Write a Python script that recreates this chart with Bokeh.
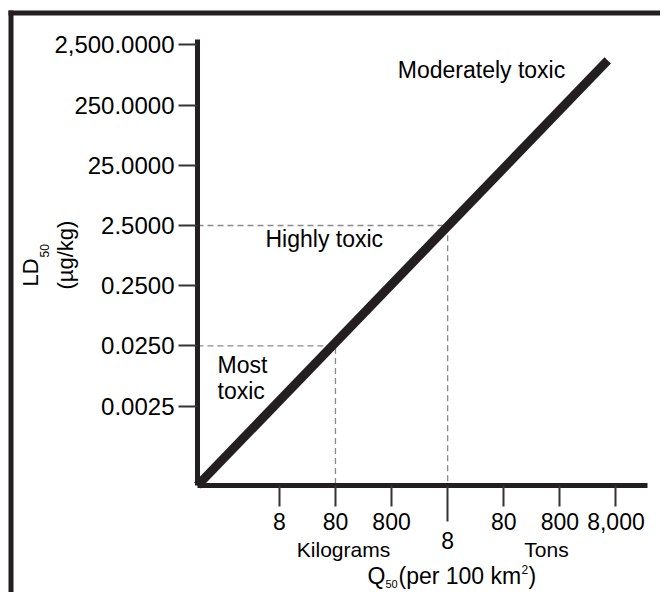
import math
from bokeh.plotting import figure
from bokeh.models import FixedTicker, Label, PolyAnnotation
from bokeh.embed import file_html
from bokeh.resources import INLINE

# ---------------- data ----------------
x_ticks_kg = [8, 80, 800, 8000, 80000, 800000, 8000000]
x_tick_labels = ["8", "80", "800", "8", "80", "800", "8,000"]
y_ticks = [0.0025, 0.025, 0.25, 2.5, 25, 250, 2500]
y_tick_labels = ["0.0025", "0.0250", "0.2500", "2.5000", "25.0000", "250.0000", "2,500.0000"]
q50_kg = [0.278, 5.7e6]          # Q50 (kg per 100 km2)
ld50 = [1.2e-4, 1380]            # LD50 (ug/kg)
thresh_q_kg = [80, 8000]
thresh_ld = [0.025, 2.5]
unit_names = ["Kilograms", "Tons"]
zone_names = ["Most", "toxic", "Highly toxic", "Moderately toxic"]

# axis extents (data)
X_AX, X_END = 0.278, 2.92e7      # x axis from origin to its right end
Y_AX, Y_END = 1.2e-4, 3070       # y axis from origin to its top end

# ---------------- layout ----------------
W, H = 660, 592
AX_L, AX_R, AX_T, AX_B = 197, 647, 39, 485
FONT = "Liberation Sans"
INK = "#231f20"
BASE_SHIFT = 0.3465   # em offset between label anchor and glyph baseline

lx_per_px = (math.log10(X_END) - math.log10(X_AX)) / (AX_R - AX_L)
ly_per_px = (math.log10(Y_END) - math.log10(Y_AX)) / (AX_B - AX_T)
X0 = 10 ** (math.log10(X_AX) - AX_L * lx_per_px)
X1 = 10 ** (math.log10(X_AX) + (W - AX_L) * lx_per_px)
Y0 = 10 ** (math.log10(Y_AX) - (H - AX_B) * ly_per_px)
Y1 = 10 ** (math.log10(Y_AX) + AX_B * ly_per_px)

p = figure(width=W, height=H, x_axis_type="log", y_axis_type="log",
           x_range=(X0, X1), y_range=(Y0, Y1),
           output_backend="svg", toolbar_location=None,
           min_border=0, min_border_left=0, min_border_right=0,
           min_border_top=0, min_border_bottom=0)
p.outline_line_color = None
p.grid.visible = False
p.background_fill_color = "white"
p.border_fill_color = "white"


def at(px, py):
    """canvas pixel (top-left origin) -> data coordinates"""
    return (10 ** (math.log10(X0) + px * lx_per_px),
            10 ** (math.log10(Y0) + (H - py) * ly_per_px))


# image frame (left and top bars)
def bar(x0, y0, x1, y1):
    a = at(x0, y0)
    b = at(x1, y1)
    p.add_layout(PolyAnnotation(xs=[a[0], b[0], b[0], a[0]], ys=[a[1], a[1], b[1], b[1]],
                                fill_color=INK, fill_alpha=1, line_color=None))

bar(8, 10, 13, 640)
bar(8, 10, 700, 15)

# dashed threshold guides
for q, ld in zip(thresh_q_kg, thresh_ld):
    p.line([X_AX, q, q], [ld, ld, Y_AX], line_color="#8a8a8a", line_width=1.3, line_dash="6 4")

# main relation line
p.line(q50_kg, ld50, line_color=INK, line_width=9)

# axes (crossing at the origin, limited extent)
for ax in (p.xaxis[0], p.yaxis[0]):
    ax.axis_line_width = 5
    ax.axis_line_color = INK
    ax.major_tick_line_width = 2
    ax.major_tick_line_color = "#333333"
    ax.major_tick_in = 0
    ax.minor_tick_in = 0
    ax.major_label_text_font = FONT
    ax.major_label_text_color = "black"

p.yaxis.fixed_location = X_AX
p.yaxis.bounds = (Y_AX, Y_END)
p.yaxis.ticker = FixedTicker(ticks=y_ticks, minor_ticks=[])
p.yaxis.major_label_overrides = dict(zip(y_ticks, y_tick_labels))
p.yaxis.major_tick_out = 19
p.yaxis.major_label_standoff = 4
p.yaxis.major_label_text_font_size = "24px"

main_x = [t for t in x_ticks_kg if t != 8000]
p.xaxis.fixed_location = Y_AX
p.xaxis.bounds = (X_AX, X_END)
p.xaxis.ticker = FixedTicker(ticks=main_x, minor_ticks=[8000])
p.xaxis.major_label_overrides = {t: l for t, l in zip(x_ticks_kg, x_tick_labels) if t != 8000}
p.xaxis.major_tick_out = 21
p.xaxis.minor_tick_out = 36
p.xaxis.minor_tick_line_width = 2
p.xaxis.minor_tick_line_color = "#333333"
p.xaxis.major_label_standoff = -9
p.xaxis.major_label_text_font_size = "23px"


def lab(text, px, py, size=23, align="left", angle=0.0, x=None):
    """px, py: glyph baseline position in canvas pixels"""
    if angle == 0.0:
        py = py - BASE_SHIFT * size
    else:
        px = px - BASE_SHIFT * size
    dx, dy = at(px, py)
    if x is not None:
        dx = x
    p.add_layout(Label(x=dx, y=dy, text=text,
                       text_font=FONT, text_font_size=f"{size}px", text_color="black",
                       text_align=align, text_baseline="alphabetic", angle=angle))


# special long-tick label (8 tons) and unit names
lab(x_tick_labels[3], 0, 548, align="center", x=8000)
lab(unit_names[0], 343, 556, size=21, align="center")
lab(unit_names[1], 546, 556, size=21, align="center")

# x axis title: Q50(per 100 km2)
lab("Q", 367, 583)
lab("50", 385, 587, size=11)
lab("(per 100 km", 398, 583)
lab("2", 521, 573, size=12)
lab(")", 528, 583)

# y axis title (rotated)
lab("LD", 38, 286, size=22, angle=math.pi / 2)
lab("50", 48, 257, size=12, angle=math.pi / 2)
lab("(µg/kg)", 73, 289, size=22, angle=math.pi / 2)

# zone labels
lab(zone_names[3], 481, 77, align="center")
lab(zone_names[2], 265, 246)
lab(zone_names[0], 217, 372)
lab(zone_names[1], 217, 398)

open("out.html", "w").write(file_html(p, INLINE))
